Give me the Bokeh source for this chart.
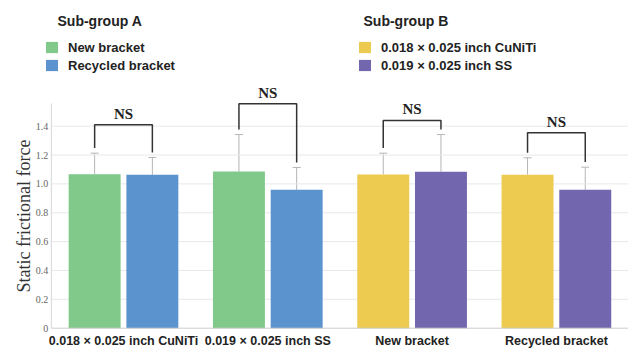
import math
from bokeh.plotting import figure
from bokeh.models import (ColumnDataSource, Range1d, Legend, LegendItem, Label,
                          Whisker, TeeHead)
from bokeh.core.properties import value
from bokeh.embed import file_html
from bokeh.resources import INLINE

# ---------------- data ----------------
categories = ["0.018 \u00d7 0.025 inch CuNiTi", "0.019 \u00d7 0.025 inch SS",
              "New bracket", "Recycled bracket"]
left_means = [1.067, 1.086, 1.065, 1.063]
left_sd = [0.146, 0.256, 0.148, 0.118]
right_means = [1.063, 0.959, 1.084, 0.959]
right_sd = [0.120, 0.155, 0.258, 0.157]
bracket_levels = [1.41, 1.555, 1.44, 1.354]
sig_labels = ["NS", "NS", "NS", "NS"]
y_ticks = [0, 0.2, 0.4, 0.6, 0.8, 1.0, 1.2, 1.4]
y_axis_top = 1.557

subgroup_titles = ["Sub-group A", "Sub-group B"]
subgroup_a_labels = ["New bracket", "Recycled bracket"]
subgroup_b_labels = ["0.018 \u00d7 0.025 inch CuNiTi", "0.019 \u00d7 0.025 inch SS"]

GREEN, BLUE, YELLOW, PURPLE = "#80c98a", "#5b93cf", "#edcb50", "#7267ae"

# ---------------- figure ----------------
W, H = 628, 349
PX_PER_UNIT = 144.3
ZERO_PX_FROM_BOTTOM = 21.3
FIRST_GROUP_PX = 123.0
x_start = -FIRST_GROUP_PX / PX_PER_UNIT
x_end = x_start + W / PX_PER_UNIT
y_start = -ZERO_PX_FROM_BOTTOM / PX_PER_UNIT
y_end = y_start + H / PX_PER_UNIT

p = figure(width=W, height=H, output_backend="svg", toolbar_location=None,
           x_range=Range1d(x_start, x_end), y_range=Range1d(y_start, y_end),
           min_border_left=0, min_border_right=0, min_border_top=0,
           min_border_bottom=0)
p.outline_line_color = None
p.background_fill_color = "white"
p.border_fill_color = "white"
p.xaxis.visible = False
p.yaxis.visible = False
p.xgrid.grid_line_color = None
p.ygrid.grid_line_color = None

OFF, BW = 0.2, 0.36
idx = list(range(len(categories)))
AX_X = -0.5           # position of the value axis (left of first group)
AX_X_END = len(categories) - 0.5

# horizontal grid lines and value-axis tick labels
grid_y = [t for t in y_ticks if t != 0]
p.segment(x0=[AX_X] * len(grid_y), y0=grid_y, x1=[AX_X_END] * len(grid_y), y1=grid_y,
          line_color="#e8e8e8", line_width=1)
p.text(x=[AX_X] * len(y_ticks), y=y_ticks,
       text=["0" if t == 0 else f"{t:.1f}" for t in y_ticks],
       text_font=value("Liberation Serif"), text_font_size="10px", text_color="#666666",
       text_align="right", text_baseline="middle", x_offset=-3)

def src(ids, means, sds, side):
    return ColumnDataSource(dict(
        x=[i + side * OFF for i in ids],
        top=[means[i] for i in ids],
        upper=[means[i] + sds[i] for i in ids],
    ))

a_ids, b_ids = [0, 1], [2, 3]
sA_l = src(a_ids, left_means, left_sd, -1)
sA_r = src(a_ids, right_means, right_sd, 1)
sB_l = src(b_ids, left_means, left_sd, -1)
sB_r = src(b_ids, right_means, right_sd, 1)

rA_l = p.vbar(x="x", top="top", width=BW, source=sA_l, fill_color=GREEN, line_color=None)
rA_r = p.vbar(x="x", top="top", width=BW, source=sA_r, fill_color=BLUE, line_color=None)
rB_l = p.vbar(x="x", top="top", width=BW, source=sB_l, fill_color=YELLOW, line_color=None)
rB_r = p.vbar(x="x", top="top", width=BW, source=sB_r, fill_color=PURPLE, line_color=None)

for s in (sA_l, sA_r, sB_l, sB_r):
    p.add_layout(Whisker(base="x", lower="top", upper="upper", source=s,
                         line_color="#b5b5b5", line_width=1,
                         upper_head=TeeHead(size=8, line_color="#b5b5b5", line_width=1),
                         lower_head=None))

# axis lines
p.segment(x0=[AX_X], y0=[0], x1=[AX_X], y1=[y_axis_top], line_color="#d6d6d6", line_width=1)
p.segment(x0=[AX_X], y0=[0], x1=[AX_X_END], y1=[0], line_color="#cccccc", line_width=1)

# category labels under the bars
p.text(x=idx, y=[0] * len(idx), text=categories, text_font=value("Liberation Sans"),
       text_font_style="bold", text_font_size="12.5px", text_color="#222222",
       text_align="center", text_baseline="middle", y_offset=13)

# significance brackets
xs, ys = [], []
for i in idx:
    xl, xr = i - OFF, i + OFF
    yl = left_means[i] + left_sd[i] + 0.035
    yr = right_means[i] + right_sd[i] + 0.035
    xs.append([xl, xl, xr, xr])
    ys.append([yl, bracket_levels[i], bracket_levels[i], yr])
p.multi_line(xs=xs, ys=ys, line_color="#333333", line_width=1.5)
p.text(x=idx, y=bracket_levels, text=sig_labels, text_font=value("Liberation Serif"),
       text_font_style="bold", text_font_size="15px", text_color="#222222",
       text_align="center", text_baseline="middle", y_offset=-11)

# value-axis title
p.add_layout(Label(x=23, y=0.778, x_units="screen", y_units="data",
                   text="Static frictional force", angle=math.pi / 2,
                   text_font="Liberation Serif", text_font_size="18px",
                   text_color="#333333", text_align="center", text_baseline="middle"))

# legend titles
p.add_layout(Label(x=57, y=H - 20.7, x_units="screen", y_units="screen",
                   text=subgroup_titles[0], text_font="Liberation Sans",
                   text_font_style="bold", text_font_size="14px", text_color="#222222",
                   text_align="left", text_baseline="middle"))
p.add_layout(Label(x=363, y=H - 20.7, x_units="screen", y_units="screen",
                   text=subgroup_titles[1], text_font="Liberation Sans",
                   text_font_style="bold", text_font_size="14px", text_color="#222222",
                   text_align="left", text_baseline="middle"))

def make_legend(items, loc):
    return Legend(items=items, location=loc, orientation="vertical",
                  padding=0, margin=0, spacing=3, glyph_width=15, glyph_height=14,
                  label_height=14, label_standoff=9, border_line_color=None,
                  background_fill_alpha=0, label_text_font="Liberation Sans",
                  label_text_font_style="bold", label_text_font_size="13px",
                  label_text_color="#222222")

legA = make_legend([LegendItem(label=subgroup_a_labels[0], renderers=[rA_l]),
                    LegendItem(label=subgroup_a_labels[1], renderers=[rA_r])],
                   (44, H - 72.7))
legB = make_legend([LegendItem(label=subgroup_b_labels[0], renderers=[rB_l]),
                    LegendItem(label=subgroup_b_labels[1], renderers=[rB_r])],
                   (357, H - 72.7))
p.add_layout(legA)
p.add_layout(legB)

open("out.html", "w").write(file_html(p, INLINE))
